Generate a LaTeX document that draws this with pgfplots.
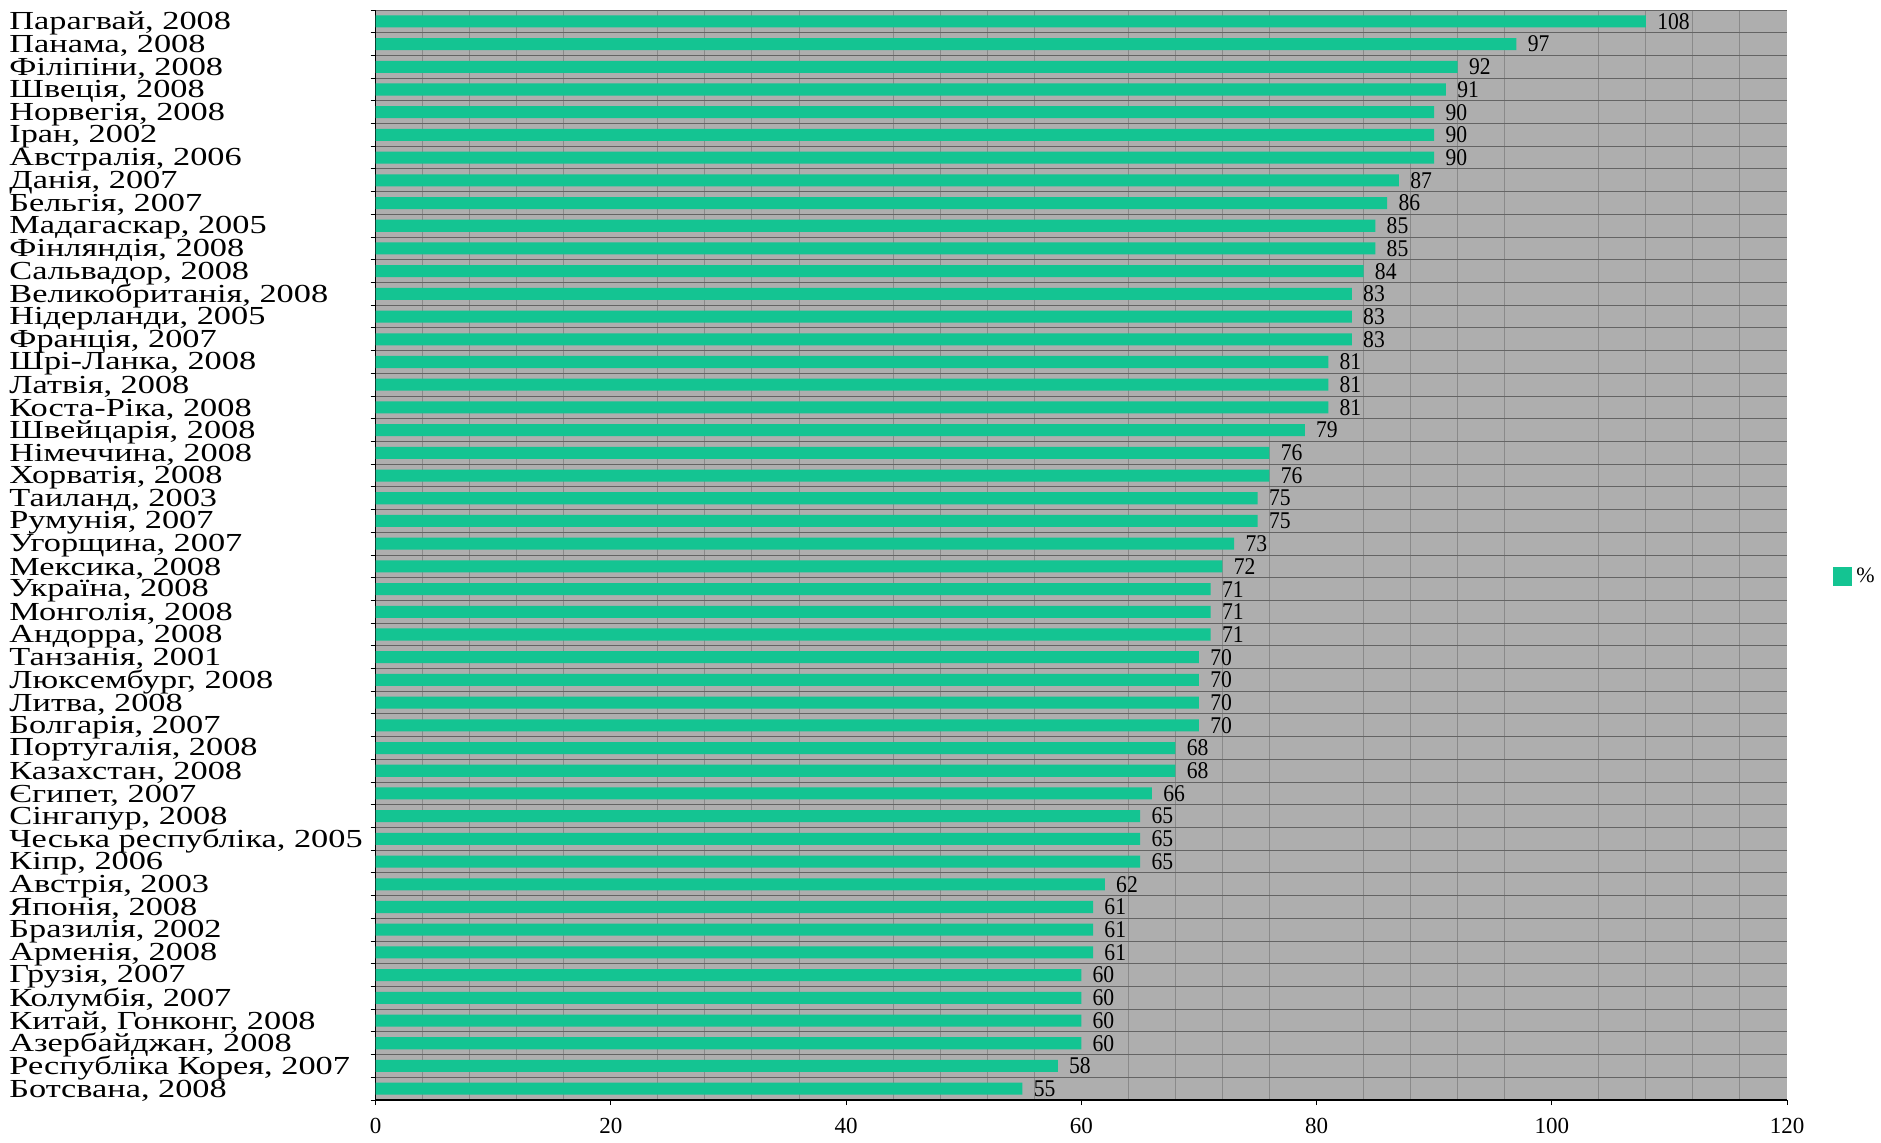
\documentclass[border=0pt]{standalone}
\usepackage{fontspec}
\setmainfont{Liberation Serif}
\usepackage{graphicx}
\usepackage{pgfplots}
\pgfplotsset{compat=1.18}
\definecolor{barc}{RGB}{20,196,146}
\definecolor{bgc}{RGB}{174,174,174}
\definecolor{hlc}{RGB}{100,100,100}
\definecolor{vlc}{RGB}{138,138,138}
\newcommand\yl[1]{\scalebox{1.32}[1]{#1}}
\begin{document}
\begin{tikzpicture}
\useasboundingbox (-187.8pt,-21pt) rectangle (752.7pt,550pt);
\begin{axis}[
  at={(0,0)}, anchor=south west,
  scale only axis, width=705.7pt, height=545pt,
  xbar, bar width=0.53, bar shift=0pt,
  xmin=0, xmax=120, ymin=-0.5, ymax=47.5, y dir=reverse,
  axis x line*=bottom, axis y line*=left,
  axis line style={black, line width=0.6pt},
  axis background/.style={fill=bgc},
  xtick={0,20,...,120}, minor x tick num=4,
  xmajorgrids=false, xminorgrids=true, yminorgrids=true, ymajorgrids=false,
  minor x grid style={vlc, line width=0.5pt},
  minor y grid style={hlc, line width=0.5pt},
  ytick={0,...,47},
  minor ytick={-0.5,0.5,...,47.5},
  tick align=outside, major tick length=2.5pt, minor tick length=2.5pt,
  every major y tick/.style={draw=none},
  every minor x tick/.style={draw=none},
  every major x tick/.style={black, line width=0.5pt},
  every minor y tick/.style={black, line width=0.5pt},
  /pgf/number format/assume math mode=true,
  xticklabel style={font=\fontsize{11.5}{11.5}\selectfont, yshift=-3pt},
  yticklabel style={anchor=west, xshift=-180.8pt, yshift=-1pt, inner sep=0pt, font=\fontsize{13}{13}\selectfont},
  yticklabels={
    \yl{Парагвай, 2008}, \yl{Панама, 2008}, \yl{Філіпіни, 2008}, \yl{Швеція, 2008},
    \yl{Норвегія, 2008}, \yl{Іран, 2002}, \yl{Австралія, 2006}, \yl{Данія, 2007},
    \yl{Бельгія, 2007}, \yl{Мадагаскар, 2005}, \yl{Фінляндія, 2008}, \yl{Сальвадор, 2008},
    \yl{Великобританія, 2008}, \yl{Нідерланди, 2005}, \yl{Франція, 2007}, \yl{Шрі-Ланка, 2008},
    \yl{Латвія, 2008}, \yl{Коста-Ріка, 2008}, \yl{Швейцарія, 2008}, \yl{Німеччина, 2008},
    \yl{Хорватія, 2008}, \yl{Таиланд, 2003}, \yl{Румунія, 2007}, \yl{Угорщина, 2007},
    \yl{Мексика, 2008}, \yl{Україна, 2008}, \yl{Монголія, 2008}, \yl{Андорра, 2008},
    \yl{Танзанія, 2001}, \yl{Люксембург, 2008}, \yl{Литва, 2008}, \yl{Болгарія, 2007},
    \yl{Португалія, 2008}, \yl{Казахстан, 2008}, \yl{Єгипет, 2007}, \yl{Сінгапур, 2008},
    \yl{Чеська республіка, 2005}, \yl{Кіпр, 2006}, \yl{Австрія, 2003}, \yl{Японія, 2008},
    \yl{Бразилія, 2002}, \yl{Арменія, 2008}, \yl{Грузія, 2007}, \yl{Колумбія, 2007},
    \yl{Китай, Гонконг, 2008}, \yl{Азербайджан, 2008}, \yl{Республіка Корея, 2007}, \yl{Ботсвана, 2008}
  },
  point meta=x,
  nodes near coords={\scalebox{0.9}[1]{\pgfmathprintnumber\pgfplotspointmeta}},
  nodes near coords style={anchor=west, inner sep=1pt, xshift=4.5pt, font=\fontsize{12}{12}\selectfont},
  legend style={at={(axis description cs:1,0.48)}, anchor=west, xshift=23pt, draw=none, fill=none,
    inner sep=0pt, font=\fontsize{11}{11}\selectfont},
  legend image code/.code={\fill[barc] (0pt,-4.75pt) rectangle (9.5pt,4.75pt);},
]
\addplot[fill=barc, draw=none] coordinates {
(108,0) (97,1) (92,2) (91,3) (90,4) (90,5) (90,6) (87,7)
(86,8) (85,9) (85,10) (84,11) (83,12) (83,13) (83,14) (81,15)
(81,16) (81,17) (79,18) (76,19) (76,20) (75,21) (75,22) (73,23)
(72,24) (71,25) (71,26) (71,27) (70,28) (70,29) (70,30) (70,31)
(68,32) (68,33) (66,34) (65,35) (65,36) (65,37) (62,38) (61,39)
(61,40) (61,41) (60,42) (60,43) (60,44) (60,45) (58,46) (55,47)
};
\addlegendentry{\%}
\end{axis}
\end{tikzpicture}
\end{document}
